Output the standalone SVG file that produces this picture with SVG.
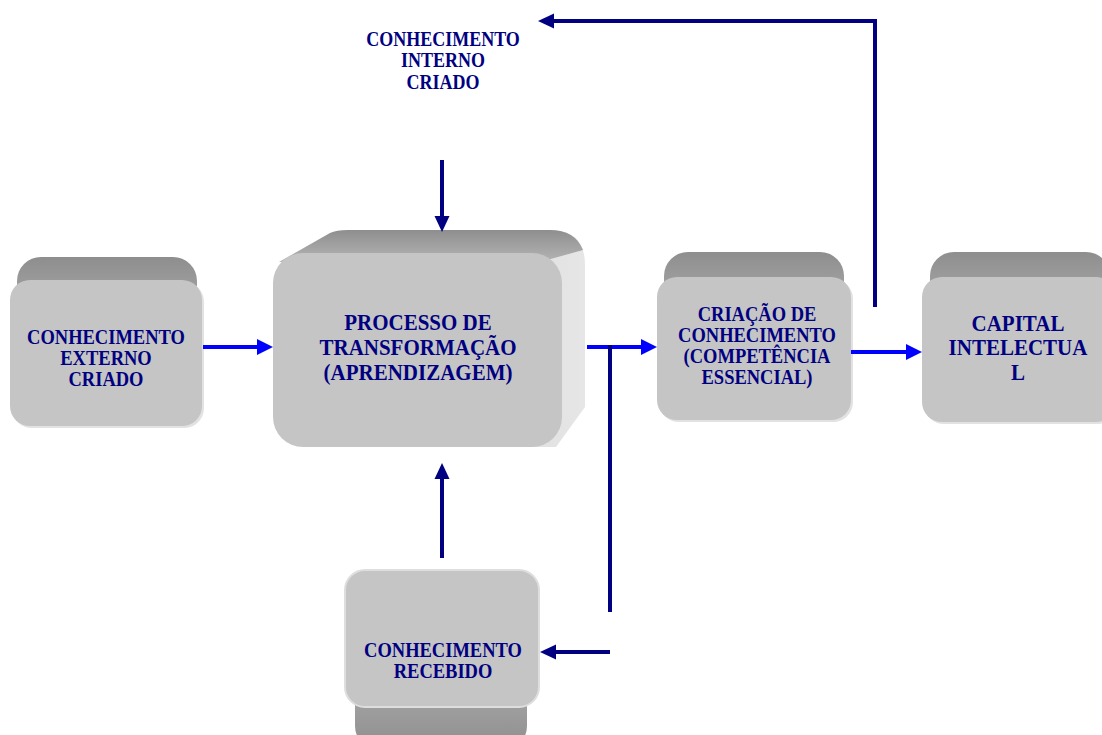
<svg xmlns="http://www.w3.org/2000/svg" width="1102" height="735" viewBox="0 0 1102 735">
  <style>
    .lbl { font-family: "Liberation Serif", "Times New Roman", serif; font-weight: bold; fill: #000080; text-anchor: middle; }
    .s { font-size: 18.5px; }
    .m { font-size: 21px; }
    .t { font-size: 18px; }
    .face { fill: #c5c5c5; }
    .hl { fill: #e2e2e2; }
    .top { fill: url(#topShade); }
    .blue { stroke: #0000ff; stroke-width: 4; fill: none; marker-end: url(#headBlue); }
    .navy { stroke: #000080; stroke-width: 4; fill: none; }
    .navy.arr { marker-end: url(#headNavy); }
  </style>
  <defs>
    <linearGradient id="topShade" x1="0" y1="0" x2="0" y2="1">
      <stop offset="0" stop-color="#8e8e8e"/>
      <stop offset="0.35" stop-color="#9c9c9c"/>
      <stop offset="1" stop-color="#b4b4b4"/>
    </linearGradient>
    <linearGradient id="bottomShade" x1="0" y1="0" x2="0" y2="1">
      <stop offset="0" stop-color="#b0b0b0"/>
      <stop offset="1" stop-color="#8e8e8e"/>
    </linearGradient>
    <linearGradient id="sideShade" x1="0" y1="0" x2="1" y2="0">
      <stop offset="0" stop-color="#d6d6d6"/>
      <stop offset="1" stop-color="#e6e6e6"/>
    </linearGradient>
    <marker id="headBlue" viewBox="0 0 16 16" markerWidth="16" markerHeight="16" refX="2" refY="8" orient="auto" markerUnits="userSpaceOnUse">
      <path d="M0,0 L16,8 L0,16 Z" fill="#0000ff"/>
    </marker>
    <marker id="headNavy" viewBox="0 0 16 16" markerWidth="16" markerHeight="16" refX="2" refY="8" orient="auto" markerUnits="userSpaceOnUse">
      <path d="M0,0.5 L16,8 L0,15.5 Z" fill="#000080"/>
    </marker>
  </defs>

  <rect width="1102" height="735" fill="#ffffff"/>

  <!-- external knowledge -->
  <g id="externo">
    <rect class="top" x="17" y="257" width="180" height="80" rx="24"/>
    <rect class="hl" x="12" y="282" width="192" height="146" rx="20"/>
    <rect class="face" x="10" y="280" width="192" height="146" rx="20"/>
    <text class="lbl s" transform="translate(106,344) scale(1,1.12)">CONHECIMENTO</text>
    <text class="lbl s" transform="translate(106,365) scale(1,1.12)">EXTERNO</text>
    <text class="lbl s" transform="translate(106,386) scale(1,1.12)">CRIADO</text>
  </g>

  <!-- transformation process (larger, oblique box) -->
  <g id="processo">
    <path fill="url(#sideShade)" d="M540,255 L555,231 Q585,232 585,265 L585,407 L556,447 L400,447 L400,255 Z"/>
    <path class="top" d="M279,262 L330,233 Q336,230 348,230 L550,230 Q575,230 583,250 L540,262 Z"/>
    <rect class="face" x="273" y="253" width="289" height="194" rx="30"/>
    <text class="lbl m" transform="translate(418,330) scale(1,1.12)">PROCESSO DE</text>
    <text class="lbl m" transform="translate(418,355) scale(1,1.12)">TRANSFORMAÇÃO</text>
    <text class="lbl m" transform="translate(418,380) scale(1,1.12)">(APRENDIZAGEM)</text>
  </g>

  <!-- knowledge creation -->
  <g id="criacao">
    <rect class="top" x="664" y="252" width="180" height="80" rx="24"/>
    <rect class="hl" x="659" y="279" width="194" height="143" rx="20"/>
    <rect class="face" x="657" y="277" width="194" height="143" rx="20"/>
    <text class="lbl s" transform="translate(757,321) scale(1,1.12)">CRIAÇÃO DE</text>
    <text class="lbl s" transform="translate(757,342) scale(1,1.12)">CONHECIMENTO</text>
    <text class="lbl s" transform="translate(757,363) scale(1,1.12)">(COMPETÊNCIA</text>
    <text class="lbl s" transform="translate(757,384) scale(1,1.12)">ESSENCIAL)</text>
  </g>

  <!-- intellectual capital -->
  <g id="capital">
    <rect class="top" x="930" y="252" width="180" height="80" rx="24"/>
    <rect class="hl" x="924" y="279" width="194" height="145" rx="20"/>
    <rect class="face" x="922" y="277" width="194" height="145" rx="20"/>
    <text class="lbl m" transform="translate(1018,331) scale(1,1.12)">CAPITAL</text>
    <text class="lbl m" transform="translate(1018,355) scale(1,1.12)">INTELECTUA</text>
    <text class="lbl m" transform="translate(1018,380) scale(1,1.12)">L</text>
  </g>

  <!-- received knowledge (box seen from below) -->
  <g id="recebido">
    <rect x="355" y="660" width="172" height="90" rx="24" fill="url(#bottomShade)"/>
    <rect class="face" x="345" y="570" width="194" height="137" rx="20" stroke="#dedede" stroke-width="2"/>
    <text class="lbl s" transform="translate(443,657) scale(1,1.12)">CONHECIMENTO</text>
    <text class="lbl s" transform="translate(443,678) scale(1,1.12)">RECEBIDO</text>
  </g>

  <!-- internal knowledge label -->
  <g id="interno">
    <text class="lbl t" transform="translate(443,46) scale(1,1.12)">CONHECIMENTO</text>
    <text class="lbl t" transform="translate(443,67) scale(1,1.12)">INTERNO</text>
    <text class="lbl t" transform="translate(443,89) scale(1,1.12)">CRIADO</text>
  </g>

  <g id="connectors">
    <path class="blue" d="M203,347 H259"/>
    <path class="blue" d="M587,347 H643"/>
    <path class="blue" d="M851,352 H908"/>
    <path class="navy" d="M610,345 V612"/>
    <path class="navy arr" d="M610,652 H554"/>
    <path class="navy arr" d="M875,307 V21 H552"/>
    <path class="navy arr" d="M442,160 V218"/>
    <path class="navy arr" d="M442,558 V477"/>
  </g>
</svg>
